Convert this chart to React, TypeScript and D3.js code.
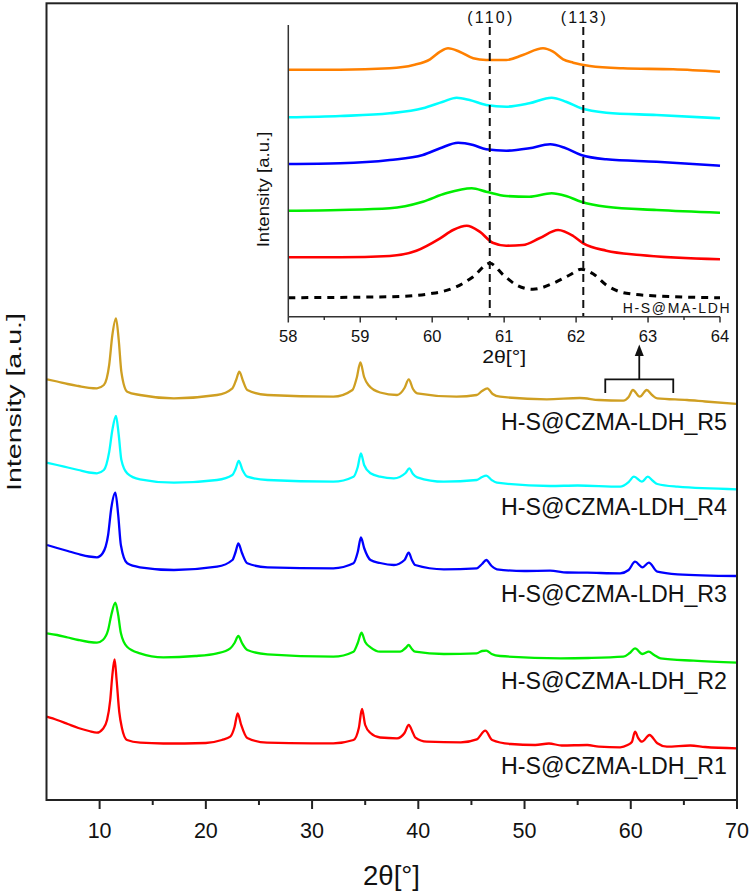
import React from 'react';
import * as d3 from 'd3';

type Pt = [number, number];

const W = 751;
const H = 892;

// ---------- main chart data (2θ, intensity a.u., relative to own baseline) ----------
const xTicksMajor = [10, 20, 30, 40, 50, 60, 70];
const xTicksMinor = [15, 25, 35, 45, 55, 65];
const sampleNames = ['H-S@CZMA-LDH_R1', 'H-S@CZMA-LDH_R2', 'H-S@CZMA-LDH_R3', 'H-S@CZMA-LDH_R4', 'H-S@CZMA-LDH_R5'];
const sampleColors = ['#ff0000', '#00ee00', '#0000ff', '#00ffff', '#cf9f22'];
const sampleOffsets = [52, 137, 224, 311, 396];

const r1: Pt[] = [
  [5, 31.3], [6, 28], [7, 24], [8, 20], [9, 17], [9.75, 15.3], [10.3, 19], [10.7, 28], [11.0, 48], [11.2, 73],
  [11.41, 88.7], [11.6, 68], [11.85, 36], [12.1, 20], [12.58, 8], [13.83, 5.3], [16, 4.5], [20, 5], [21.5, 8],
  [22.3, 11.3], [22.7, 21], [23.0, 34.7], [23.3, 24], [23.9, 10], [25.76, 5.3], [30, 4.7], [32, 4.7], [33.9, 8],
  [34.4, 20], [34.7, 39], [35.0, 23], [35.5, 15], [36.4, 10.5], [38.0, 9.7], [38.7, 15], [39.1, 23], [39.5, 15],
  [39.7, 10.7], [40.8, 6.3], [44.0, 5.7], [45.5, 8.7], [46.3, 17.3], [46.95, 8], [48.7, 4], [51, 3], [52.3, 4.5],
  [53.5, 2.5], [55.9, 3], [57, 1.3], [59.0, 0.7], [59.7, 3], [60.1, 6], [60.4, 16.3], [60.7, 10], [61.05, 6.3],
  [61.76, 13], [62.5, 4.7], [63.4, 1.3], [65.6, 2.5], [67, 1], [70, -0.3],
];
const r2: Pt[] = [
  [5.05, 29.7], [6, 28], [7, 25.5], [8, 23], [9, 21], [9.75, 20.3], [10.3, 23], [10.8, 33], [11.1, 48], [11.48, 60.3],
  [11.75, 48], [12.0, 30], [12.58, 16.3], [13.8, 9.7], [16.0, 5.7], [19, 7], [21.05, 9.7], [22.3, 14.7], [22.7, 20],
  [23.06, 27], [23.4, 20], [23.9, 13], [25.8, 8.7], [32.0, 6.3], [33.9, 11.3], [34.3, 20], [34.65, 30.3], [35.0, 21],
  [35.5, 15.7], [36.4, 11.3], [38.3, 11.3], [38.8, 15], [39.1, 18], [39.4, 14], [39.7, 11.3], [42.4, 9], [45.5, 9.7],
  [46.0, 12], [46.4, 12.3], [46.9, 9], [47.7, 7], [53.4, 4.7], [56, 5], [59.3, 6.3], [59.9, 10], [60.4, 14.7],
  [61.1, 9], [61.7, 11.3], [62.2, 8], [62.8, 4.7], [65.9, 2.3], [70, 0.3],
];
const r3: Pt[] = [
  [5.05, 31], [6, 28], [7, 25], [8, 22], [9, 19.5], [9.75, 18.7], [10.3, 23], [10.8, 41], [11.1, 68], [11.48, 83.3],
  [11.75, 61], [12.0, 31], [12.6, 12.7], [13.8, 8.7], [17.0, 6], [21.05, 9.3], [22.5, 16], [22.8, 24], [23.06, 32.7],
  [23.4, 23], [23.9, 12.7], [25.8, 8.7], [32.0, 7.7], [33.9, 12.7], [34.3, 24], [34.6, 38.5], [34.9, 28], [35.5, 16],
  [36.4, 13], [37.7, 11], [38.7, 16], [39.1, 23.3], [39.4, 16], [39.7, 11], [42.4, 6.7], [45.5, 7.7], [46.0, 12],
  [46.4, 16], [46.9, 10], [47.4, 6.7], [50, 5], [52.4, 5.3], [54, 3.5], [55.9, 3.3], [59.0, 2.7], [59.8, 6],
  [60.4, 14.3], [61.1, 8.7], [61.7, 13.3], [62.5, 4.3], [64.4, 1.7], [70, 0],
];
const r4: Pt[] = [
  [5.05, 26.3], [6, 24], [7, 21.5], [8, 19], [9, 16.5], [9.75, 15.7], [10.4, 19], [10.9, 37], [11.2, 59], [11.54, 73],
  [11.8, 54], [12.05, 29], [12.6, 15.7], [13.8, 9.7], [17.0, 6.3], [21.05, 9], [22.5, 14], [22.8, 20], [23.1, 28],
  [23.45, 19], [23.9, 12.3], [25.8, 9], [32.0, 7.3], [33.9, 12.3], [34.3, 22], [34.6, 35.7], [34.9, 24], [35.5, 15.7],
  [36.4, 12.3], [37.7, 10.7], [38.8, 16], [39.15, 20.7], [39.5, 15], [39.9, 11.7], [42.4, 7.3], [45.5, 9], [46.0, 12],
  [46.4, 13.3], [46.9, 9], [47.4, 6.3], [52.4, 3], [55, 3.5], [59.0, 2.3], [59.8, 7], [60.3, 12.3], [61.05, 7.3],
  [61.6, 12.3], [62.1, 8], [62.5, 5], [64.4, 2.3], [70, -0.3],
];
const r5: Pt[] = [
  [5.05, 24.7], [6, 22.5], [7, 20], [8, 18], [9, 16.2], [9.75, 15.7], [10.4, 19], [10.9, 39], [11.2, 69], [11.54, 85.7],
  [11.8, 64], [12.05, 32], [12.6, 12.3], [13.8, 9], [17.0, 5.7], [21.05, 9], [22.5, 15.7], [22.85, 24], [23.15, 32.3],
  [23.5, 23], [23.9, 14], [25.8, 9], [32.0, 7.3], [33.8, 14], [34.2, 26], [34.55, 41.5], [34.9, 27], [35.3, 19],
  [36.4, 11.5], [38.0, 9], [38.7, 16], [39.1, 24.7], [39.5, 15], [39.9, 10.7], [43.6, 7.3], [45.5, 9], [46.0, 13],
  [46.5, 15.7], [47.0, 10], [47.7, 7.3], [52.1, 4.7], [55.2, 6], [57, 4], [59.3, 3.3], [59.8, 7], [60.2, 14],
  [60.85, 7.3], [61.5, 14], [62.0, 9], [62.5, 5.7], [65.3, 4], [67, 2.5], [70, 0],
];
const sampleSeries = [r1, r2, r3, r4, r5];

// ---------- inset data (58–64°) ----------
const insetTicksMajor = [58, 59, 60, 61, 62, 63, 64];
const insetTicksMinor = [58.5, 59.5, 60.5, 61.5, 62.5, 63.5];
const insetRefLines = [60.8, 62.1];
const insetRefLabels = ['(110)', '(113)'];
const insetNames = ['H-S@MA-LDH', 'R1', 'R2', 'R3', 'R4', 'R5'];
const insetColors = ['#000000', '#ff0000', '#00ee00', '#0000ff', '#00ffff', '#ff8000'];
const insetOffsets = [19, 60, 106, 153, 200, 247];

const iRef: Pt[] = [
  [58, 0], [59.41, 1], [60.01, 4.4], [60.34, 11], [60.57, 21], [60.8, 34.4], [60.99, 22.7], [61.17, 12.7], [61.4, 8.4],
  [61.68, 14.4], [61.91, 22.7], [62.07, 28.4], [62.24, 23.7], [62.42, 12.7], [62.7, 4.4], [63.35, 1], [64, 0],
];
const iR1: Pt[] = [
  [58, -0.6], [58.72, -0.6], [59.41, 0.7], [59.78, 6], [60.11, 18.4], [60.29, 26.7], [60.48, 31], [60.66, 25],
  [60.84, 14], [61.03, 11], [61.26, 11.7], [61.49, 18.4], [61.75, 26.7], [61.96, 20.7], [62.1, 13.4], [62.42, 6],
  [62.89, 1.7], [64, -2.6],
];
const iR2: Pt[] = [
  [58, 0], [58.72, 0.7], [59.41, 2.4], [59.87, 9], [60.19, 17.4], [60.55, 22.4], [60.75, 19], [61.03, 14.7],
  [61.35, 14], [61.66, 17.4], [61.86, 14.7], [62.07, 9], [62.42, 4], [63.12, 0.7], [64, -2],
];
const iR3: Pt[] = [
  [58, -0.3], [58.72, 0.4], [59.41, 3.7], [59.87, 8.7], [60.11, 15.4], [60.36, 21], [60.57, 18.7], [60.75, 14.4],
  [61.03, 13], [61.35, 15.4], [61.64, 19.4], [61.84, 16], [62.07, 8.7], [62.42, 4.4], [63.12, 2], [64, -2],
];
const iR4: Pt[] = [
  [58, -0.6], [58.72, 0.7], [59.41, 3.4], [59.87, 8.4], [60.15, 15], [60.34, 19], [60.52, 16.7], [60.75, 11.7],
  [61.03, 10], [61.35, 13.4], [61.66, 19], [61.86, 15], [62.07, 8.4], [62.42, 4], [63.12, 1.7], [64, -1.6],
];
const iR5: Pt[] = [
  [58, 0], [58.72, 0], [59.41, 1.4], [59.74, 4.7], [59.97, 10.4], [60.11, 18], [60.22, 21.4], [60.38, 18],
  [60.57, 11.4], [60.75, 9.7], [61.03, 9.7], [61.26, 14.7], [61.54, 21.4], [61.68, 18], [61.82, 10.4], [61.96, 7],
  [62.19, 3.7], [62.65, 1.4], [63.35, 0.4], [64, -2],
];
const insetSeries = [iRef, iR1, iR2, iR3, iR4, iR5];

const FONT = '"Liberation Sans", Arial, sans-serif';

export default function App() {
  // main scales
  const x = d3.scaleLinear().domain([5, 70]).range([46.5, 737]);
  const y = d3.scaleLinear().domain([0, 797]).range([800, 3]);
  // inset scales
  const ix = d3.scaleLinear().domain([58, 64]).range([288.3, 720]);
  const iy = d3.scaleLinear().domain([0, 291.7]).range([316.7, 25]);

  const mainLine = (pts: Pt[], off: number) =>
    d3.line<Pt>().x((d) => x(d[0])).y((d) => y(d[1] + off)).curve(d3.curveMonotoneX)(pts) || '';
  const insetLine = (pts: Pt[], off: number) =>
    d3.line<Pt>().x((d) => ix(d[0])).y((d) => iy(d[1] + off)).curve(d3.curveMonotoneX)(pts) || '';

  const axisColor = '#222';
  const bracketL = ix.domain()[0] - 0.4;
  const bracketR = ix.domain()[1];
  const bx0 = x(bracketL);
  const bx1 = x(bracketR);
  const bmid = (bx0 + bx1) / 2;

  return (
    <svg width={W} height={H} style={{ position: 'absolute', left: 0, top: 0, background: '#fff' }} fontFamily={FONT}>
      {/* main traces */}
      {sampleSeries.map((s, i) => (
        <path key={i} d={mainLine(s, sampleOffsets[i])} fill="none" stroke={sampleColors[i]} strokeWidth={2.3} strokeLinejoin="round" />
      ))}
      {/* sample labels */}
      {sampleNames.map((n, i) => (
        <text key={n} x={501} y={y(sampleOffsets[i]) + 25.5} fontSize={23.5} fill="#111" textLength={226} lengthAdjust="spacingAndGlyphs">
          {n}
        </text>
      ))}
      {/* main frame */}
      <rect x={46.5} y={3.3} width={737 - 46.5} height={800 - 3.3} fill="none" stroke={axisColor} strokeWidth={2} />
      {/* bottom ticks */}
      {xTicksMajor.map((t) => (
        <g key={t}>
          <line x1={x(t)} x2={x(t)} y1={800} y2={809} stroke={axisColor} strokeWidth={2} />
          <text x={x(t)} y={837.7} fontSize={21.5} textAnchor="middle" fill="#111">{t}</text>
        </g>
      ))}
      {xTicksMinor.map((t) => (
        <line key={t} x1={x(t)} x2={x(t)} y1={800} y2={805} stroke={axisColor} strokeWidth={2} />
      ))}
      {/* axis titles */}
      <text x={391.5} y={885} fontSize={28} textAnchor="middle" fill="#111" textLength={57} lengthAdjust="spacingAndGlyphs">2θ[°]</text>
      <text transform="translate(21,402) rotate(-90)" fontSize={21} textAnchor="middle" fill="#111" textLength={178} lengthAdjust="spacingAndGlyphs">
        Intensity [a.u.]
      </text>

      {/* bracket + arrow */}
      <path d={`M${bx0},393 V379.3 H${bx1} V393`} fill="none" stroke="#111" strokeWidth={1.8} />
      <line x1={bmid} x2={bmid} y1={379.3} y2={354} stroke="#111" strokeWidth={1.8} />
      <path d={`M${bmid - 4.5},356 L${bmid},344.5 L${bmid + 4.5},356 Z`} fill="#111" />

      {/* inset traces */}
      {insetSeries.map((s, i) => (
        <path
          key={insetNames[i]}
          d={insetLine(s, insetOffsets[i])}
          fill="none"
          stroke={insetColors[i]}
          strokeWidth={i === 0 ? 3 : 2.6}
          strokeDasharray={i === 0 ? '7,6' : undefined}
          strokeLinejoin="round"
        />
      ))}
      {/* reference lines */}
      {insetRefLines.map((v, i) => (
        <g key={v}>
          <line x1={ix(v)} x2={ix(v)} y1={27} y2={316.7} stroke="#111" strokeWidth={2} strokeDasharray="8,5" />
          <text x={ix(v)} y={22.7} fontSize={16} textAnchor="middle" fill="#111" textLength={45} lengthAdjust="spacing">
            {insetRefLabels[i]}
          </text>
        </g>
      ))}
      {/* inset axes */}
      <line x1={ix(58)} x2={ix(58)} y1={iy.range()[1]} y2={iy.range()[0]} stroke="#333" strokeWidth={1.5} />
      <line x1={ix(58)} x2={ix(64)} y1={iy.range()[0]} y2={iy.range()[0]} stroke="#333" strokeWidth={1.5} />
      {insetTicksMajor.map((t) => (
        <g key={t}>
          <line x1={ix(t)} x2={ix(t)} y1={316.7} y2={322.5} stroke="#333" strokeWidth={1.5} />
          <text x={ix(t)} y={341.7} fontSize={16.5} textAnchor="middle" fill="#111">{t}</text>
        </g>
      ))}
      {insetTicksMinor.map((t) => (
        <line key={t} x1={ix(t)} x2={ix(t)} y1={316.7} y2={320} stroke="#333" strokeWidth={1.5} />
      ))}
      <text x={ix(61)} y={362.7} fontSize={19} textAnchor="middle" fill="#111" textLength={44} lengthAdjust="spacingAndGlyphs">2θ[°]</text>
      <text transform="translate(269,189.5) rotate(-90)" fontSize={17} textAnchor="middle" fill="#111" textLength={115.6} lengthAdjust="spacingAndGlyphs">
        Intensity [a.u.]
      </text>
      <text x={622.7} y={313} fontSize={14} fill="#111" textLength={107} lengthAdjust="spacing">{insetNames[0]}</text>
    </svg>
  );
}
